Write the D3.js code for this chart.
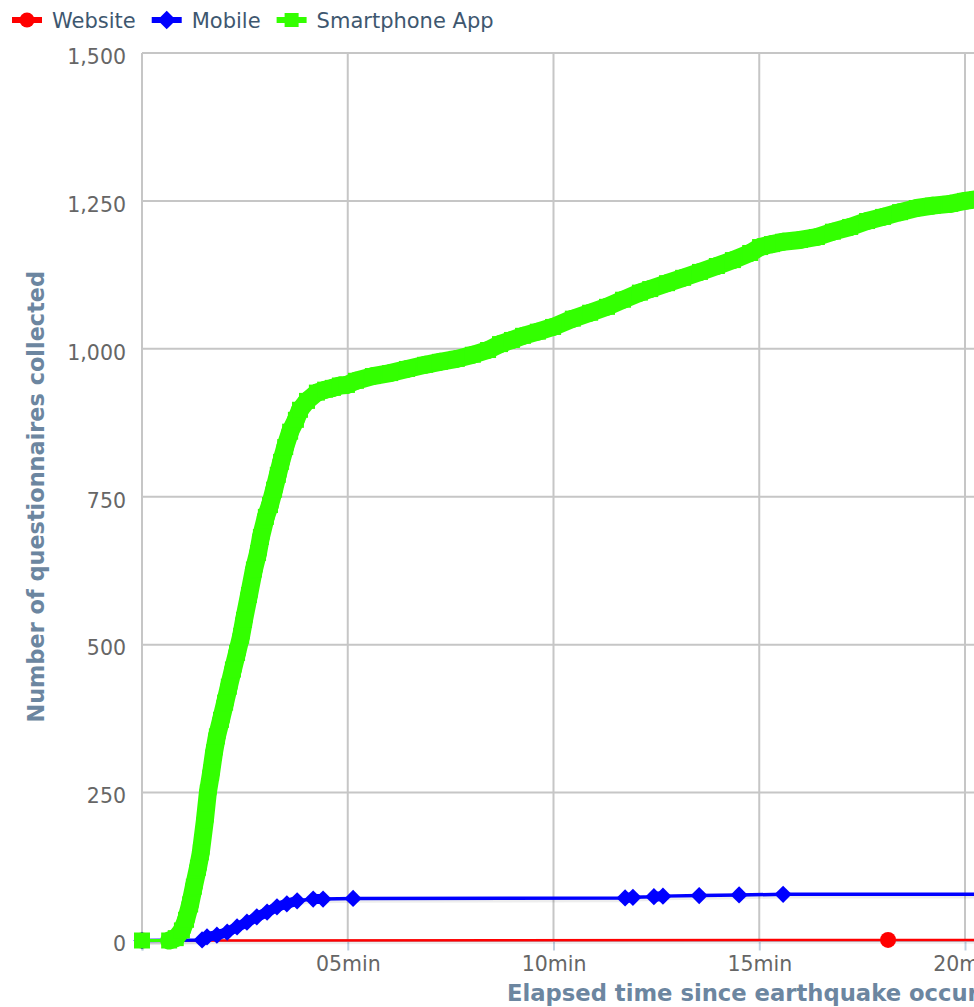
<!DOCTYPE html>
<html>
<head>
<meta charset="utf-8">
<script src="https://cdn.jsdelivr.net/npm/d3@7"></script>
<style>
  html, body { margin: 0; padding: 0; background: #fff; overflow: hidden; }
  svg { display: block; font-family: "DejaVu Sans", Verdana, sans-serif; }
</style>
</head>
<body>
<svg id="chart" width="974" height="1007"></svg>
<script>
// Cumulative questionnaires received per channel, by minutes elapsed
const seriesNames = ["Website", "Mobile", "Smartphone App"];

const websiteMinutes = [0, 18.13, 22];
const websiteCounts  = [0, 1, 1];

const mobileMinutes = [0, 1.46, 1.58, 1.82, 2.07, 2.31, 2.55, 2.79, 3.04, 3.28, 3.52, 3.77, 4.16, 4.40, 5.13,
                       11.74, 11.93, 12.44, 12.66, 13.54, 14.51, 15.58, 22];
const mobileCounts  = [0, 1, 6, 9, 14, 23, 31, 40, 48, 57, 62, 67, 70, 70, 71,
                       72, 73, 74, 75, 76, 77, 78, 78];

const appMinutes = [0, 0.66, 0.82, 0.97, 1.07, 1.17, 1.26, 1.36, 1.43, 1.53, 1.60, 1.68, 1.75, 1.82, 1.92,
                    2.02, 2.11, 2.21, 2.31, 2.41, 2.48, 2.60, 2.72, 2.82, 2.89, 3.01, 3.11, 3.21, 3.30,
                    3.38, 3.48, 3.60, 3.74, 3.84, 4.01, 4.25, 4.45, 4.64, 4.81, 4.98, 5.20, 5.61, 6.03,
                    6.44, 6.88, 7.24, 7.65, 8.04, 8.41, 8.70, 8.99, 9.26, 9.62, 9.99, 10.47, 10.89,
                    11.30, 11.69, 12.10, 12.35, 12.76, 13.15, 13.56, 13.97, 14.36, 14.78, 15.02, 15.31,
                    15.58, 15.99, 16.40, 16.79, 17.21, 17.62, 18.01, 18.42, 18.83, 19.22, 19.64, 20.0, 20.3];
const appCounts  = [0, 0, 4, 17, 35, 61, 91, 123, 149, 204, 250, 284, 318, 345, 373,
                    402, 429, 458, 486, 515, 542, 584, 627, 655, 682, 716, 736, 762, 787,
                    809, 834, 860, 880, 897, 912, 926, 931, 934, 938, 939, 946, 954, 959,
                    966, 973, 978, 983, 990, 998, 1008, 1015, 1022, 1029, 1037, 1051, 1061,
                    1071, 1083, 1095, 1101, 1111, 1120, 1130, 1140, 1150, 1162, 1172, 1177,
                    1181, 1184, 1189, 1198, 1206, 1216, 1223, 1231, 1238, 1242, 1245, 1250, 1253];

const yTicks = [0, 250, 500, 750, 1000, 1250, 1500];
const xTicks = [0, 5, 10, 15, 20, 25, 30];
const xTitle = "Elapsed time since earthquake occurred";
const yTitle = "Number of questionnaires collected";

const zip = (ts, vs) => ts.map((t, i) => ({ t, v: vs[i] }));
const website = zip(websiteMinutes, websiteCounts);
const mobile  = zip(mobileMinutes, mobileCounts);
const app     = zip(appMinutes, appCounts);

const colors = { website: "#ff0000", mobile: "#0000ff", app: "#33ff00" };

const svg = d3.select("#chart");
const plot = { left: 142, top: 53, bottom: 940.5 };
const pxPerMinute = 41.15;
plot.right = plot.left + 30 * pxPerMinute;

const x = d3.scaleLinear().domain([0, 30]).range([plot.left, plot.right]);
const y = d3.scaleLinear().domain([0, 1500]).range([plot.bottom, plot.top]);

// grid
const grid = svg.append("g");
grid.selectAll("line.h").data(yTicks).join("line")
  .attr("x1", plot.left).attr("x2", plot.right)
  .attr("y1", d => y(d)).attr("y2", d => y(d))
  .attr("stroke", "#c6c6c6").attr("stroke-width", 2);
grid.selectAll("line.v").data(xTicks).join("line")
  .attr("x1", d => x(d)).attr("x2", d => x(d))
  .attr("y1", plot.top).attr("y2", plot.bottom)
  .attr("stroke", "#c6c6c6").attr("stroke-width", 2);

// x axis
const xAxis = svg.append("g")
  .attr("transform", `translate(0,${plot.bottom})`)
  .call(d3.axisBottom(x).tickValues(xTicks)
    .tickFormat(d => d === 0 ? "" : d3.format("02d")(d) + "min")
    .tickSize(10).tickPadding(6));
xAxis.select(".domain").attr("stroke", "#c0d0e0").attr("stroke-width", 2);
xAxis.selectAll(".tick line").attr("stroke", "#c0d0e0").attr("stroke-width", 2);
xAxis.selectAll(".tick text").attr("fill", "#666").attr("font-size", "20.5px")
  .attr("font-family", "DejaVu Sans, sans-serif");

// y axis
const yAxis = svg.append("g")
  .attr("transform", `translate(${plot.left},0)`)
  .call(d3.axisLeft(y).tickValues(yTicks).tickFormat(d3.format(",")).tickSize(0).tickPadding(16));
yAxis.select(".domain").remove();
yAxis.selectAll(".tick text").attr("fill", "#666").attr("font-size", "20.5px")
  .attr("dy", "0.5em").attr("font-family", "DejaVu Sans, sans-serif");

// axis titles
svg.append("text")
  .attr("x", 507).attr("y", 1001)
  .attr("text-anchor", "start")
  .attr("font-size", "22.7px").attr("font-weight", "bold").attr("fill", "#6c86a0")
  .text(xTitle);
svg.append("text")
  .attr("transform", `translate(44,${(plot.top + plot.bottom) / 2}) rotate(-90)`)
  .attr("text-anchor", "middle")
  .attr("font-size", "22.4px").attr("font-weight", "bold").attr("fill", "#6c86a0")
  .text(yTitle);

// series
const clipId = "plot-clip";
svg.append("clipPath").attr("id", clipId).append("rect")
  .attr("x", plot.left).attr("y", plot.top - 10)
  .attr("width", plot.right - plot.left).attr("height", plot.bottom - plot.top + 20);

const line = d3.line().x(d => x(d.t)).y(d => y(d.v));
const series = svg.append("g");

function drawLine(data, color, width) {
  series.append("path").datum(data)
    .attr("d", line).attr("fill", "none")
    .attr("stroke", "rgba(0,0,0,0.07)").attr("stroke-width", width + 2)
    .attr("transform", "translate(1,1.5)")
    .attr("clip-path", `url(#${clipId})`);
  series.append("path").datum(data)
    .attr("d", line).attr("fill", "none")
    .attr("stroke", color).attr("stroke-width", width)
    .attr("stroke-linejoin", "round")
    .attr("clip-path", `url(#${clipId})`);
}

// Where responses arrive in quick succession the markers merge into a solid band:
// join consecutive points closer than maxGap minutes with a wide stroke.
function drawBand(data, color, width, maxGap) {
  const segs = [];
  for (let i = 1; i < data.length; i++) {
    if (data[i].t - data[i - 1].t < maxGap) segs.push([data[i - 1], data[i]]);
  }
  series.selectAll(null).data(segs).join("path")
    .attr("d", line).attr("fill", "none")
    .attr("stroke", color).attr("stroke-width", width)
    .attr("stroke-linecap", "round")
    .attr("clip-path", `url(#${clipId})`);
}

// Website
drawLine(website, colors.website, 2.5);
series.selectAll("circle.web").data(website).join("circle")
  .attr("cx", d => x(d.t)).attr("cy", d => y(d.v)).attr("r", 8)
  .attr("fill", colors.website);

// Mobile
drawLine(mobile, colors.mobile, 3.5);
drawBand(mobile, colors.mobile, 10, 0.3);
const diamond = d3.symbol().type(d3.symbolDiamond2).size(190);
series.selectAll("path.mob").data(mobile).join("path")
  .attr("transform", d => `translate(${x(d.t)},${y(d.v)})`)
  .attr("d", diamond).attr("fill", colors.mobile);

// Smartphone App
drawLine(app, colors.app, 3);
drawBand(app, colors.app, 18, 0.6);
series.selectAll("rect.app").data(app).join("rect")
  .attr("x", d => x(d.t) - 8).attr("y", d => y(d.v) - 8)
  .attr("width", 16).attr("height", 16)
  .attr("fill", colors.app);

// legend
const legend = svg.append("g").attr("transform", "translate(12,20)");
const legendItems = [
  { name: seriesNames[0], color: colors.website, shape: "circle" },
  { name: seriesNames[1], color: colors.mobile, shape: "diamond" },
  { name: seriesNames[2], color: colors.app, shape: "square" }
];
let lx = 0;
legendItems.forEach(item => {
  const g = legend.append("g").attr("transform", `translate(${lx},0)`);
  g.append("line").attr("x1", 0).attr("x2", 30).attr("y1", 0).attr("y2", 0)
    .attr("stroke", item.color).attr("stroke-width", 6);
  if (item.shape === "circle") {
    g.append("circle").attr("cx", 15).attr("cy", 0).attr("r", 7.5).attr("fill", item.color);
  } else if (item.shape === "diamond") {
    g.append("path").attr("transform", "translate(15,0)")
      .attr("d", d3.symbol().type(d3.symbolDiamond2).size(220)).attr("fill", item.color);
  } else {
    g.append("rect").attr("x", 8).attr("y", -7).attr("width", 14).attr("height", 14).attr("fill", item.color);
  }
  const txt = g.append("text").attr("x", 40).attr("y", 7.6)
    .attr("font-size", "21px").attr("fill", "#3e576f").text(item.name);
  lx += 40 + txt.node().getComputedTextLength() + 16;
});
</script>
</body>
</html>
